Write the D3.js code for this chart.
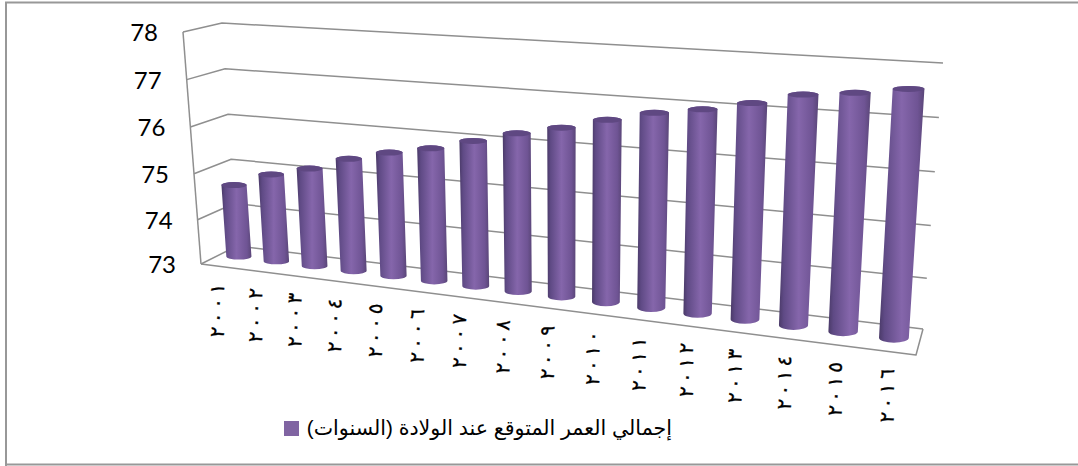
<!DOCTYPE html>
<html>
<head>
<meta charset="utf-8">
<script src="https://cdn.jsdelivr.net/npm/d3@7"></script>
<style>
html,body{margin:0;padding:0;background:#fff}
svg{display:block}
</style>
</head>
<body>
<svg id="chart" width="1078" height="466"></svg>
<script>
// data
var years = ["٢٠٠١","٢٠٠٢","٢٠٠٣","٢٠٠٤","٢٠٠٥","٢٠٠٦","٢٠٠٧","٢٠٠٨","٢٠٠٩","٢٠١٠","٢٠١١","٢٠١٢","٢٠١٣","٢٠١٤","٢٠١٥","٢٠١٦"];
var lifeExpectancy = [74.62,74.94,75.15,75.44,75.65,75.82,76.05,76.28,76.47,76.70,76.91,77.05,77.24,77.47,77.57,77.71];
var yTicks = [73,74,75,76,77,78];
var legendLabel = "إجمالي العمر المتوقع عند الولادة (السنوات)";

var svg = d3.select("#chart");

// fake 3d box: screen position of each vertical edge, [y=73, y=78]
var edge = {
  frontLeft:  {x: [201,183], y: [264,32]},
  backLeft:   {x: [237,222], y: [246,23]},
  frontRight: {x: [916,929], y: [355,89]},
  backRight:  {x: [923,943], y: [329,63]}
};
var yT = d3.scalePow().exponent(1.03).domain([0,5]).range([0,1]);
var xU = d3.scaleBand().domain(d3.range(years.length)).range([0,1]);
var K = 1.19;
function persp(u){ return u/(K+u*(1-K)); }
function lerp(a,b,t){ return a+(b-a)*t; }
function onEdge(e,v){ var t=yT(v-73); return [lerp(e.x[0],e.x[1],t), lerp(e.y[0],e.y[1],t)]; }
// u along the years, v value, d depth (0 front, 1 back)
function pos(u,v,d){
  var s=persp(u);
  var l0=onEdge(edge.frontLeft,v), l1=onEdge(edge.backLeft,v);
  var r0=onEdge(edge.frontRight,v), r1=onEdge(edge.backRight,v);
  var lx=lerp(l0[0],l1[0],d), ly=lerp(l0[1],l1[1],d);
  var rx=lerp(r0[0],r1[0],d), ry=lerp(r0[1],r1[1],d);
  return [lerp(lx,rx,s), lerp(ly,ry,s)];
}

// frame runs off the right side of the picture
svg.append("path").attr("d","M6,466V2.5H1078M6,464.5H1078")
  .attr("fill","none").attr("stroke","#989898").attr("stroke-width",2);

var defs = svg.append("defs");
var grad = defs.append("linearGradient").attr("id","barBody");
[[0,"#4a3a68"],[0.12,"#5f4a85"],[0.5,"#8566ab"],[0.85,"#6f5494"],[1,"#5a4678"]].forEach(function(st){
  grad.append("stop").attr("offset",st[0]).attr("stop-color",st[1]);
});

// walls
var gridColor = "#8f8f8f";
var line = d3.line();
var gWalls = svg.append("g").attr("fill","none").attr("stroke",gridColor).attr("stroke-width",1.5).attr("stroke-linejoin","round");
gWalls.selectAll("path.grid").data(yTicks).enter().append("path").attr("class","grid")
  .attr("d",function(v){ return line([onEdge(edge.frontLeft,v),onEdge(edge.backLeft,v),onEdge(edge.backRight,v)]); });
gWalls.append("path").attr("d",line([onEdge(edge.frontLeft,78),onEdge(edge.frontLeft,73)]));
gWalls.append("path").attr("d",line([onEdge(edge.frontLeft,73),onEdge(edge.frontRight,73),onEdge(edge.backRight,73)]));

// y labels
svg.append("g").selectAll("text").data(yTicks).enter().append("text")
  .attr("x",function(v){ return onEdge(edge.frontLeft,v)[0]-25; })
  .attr("y",function(v){ return onEdge(edge.frontLeft,v)[1]+9; })
  .attr("text-anchor","end").attr("font-family","Lato, 'Open Sans', sans-serif")
  .attr("font-size",24).attr("fill","#000")
  .text(function(v){ return v; });

// cylinders
function cylinder(i,v){
  var u=xU(i)+xU.bandwidth()/2, s=persp(u);
  var top=pos(u,v,0.54), base=pos(u,73,0.54);
  var rt=lerp(12.5,16,s), rb=lerp(12.5,15,s), et=3, eb=lerp(3,5,s);
  return {top:top,rt:rt,et:et,
    d:"M"+(top[0]-rt)+","+top[1]+
      "L"+(base[0]-rb)+","+base[1]+
      "A"+rb+","+eb+" 0 0 0 "+(base[0]+rb)+","+base[1]+
      "L"+(top[0]+rt)+","+top[1]+
      "A"+rt+","+et+" 0 0 0 "+(top[0]-rt)+","+top[1]+"Z"};
}
svg.append("g").selectAll("g").data(lifeExpectancy).enter().append("g")
  .each(function(v,i){
    var c=cylinder(i,v), g=d3.select(this);
    g.append("path").attr("d",c.d).attr("fill","url(#barBody)");
    g.append("ellipse").attr("cx",c.top[0]).attr("cy",c.top[1]).attr("rx",c.rt).attr("ry",c.et).attr("fill","#5f4882");
  });

// x labels: digits stacked one by one, each turned on its side
var digitStep = 14.5;
svg.append("g").selectAll("g").data(years).enter().append("g")
  .attr("transform",function(d,i){
    var p=pos(xU(i)+xU.bandwidth()/2,73,0);
    return "translate("+(p[0]-3)+","+(p[1]+44)+")";
  })
  .selectAll("text").data(function(d){ return d.split(""); }).enter().append("text")
  .attr("transform",function(d,k){ return "translate(0,"+((1.5-k)*digitStep)+") rotate(-84)"; })
  .attr("text-anchor","middle").attr("dy","0.36em")
  .attr("font-family","'DejaVu Sans', sans-serif").attr("font-size",20)
  .attr("fill","#000").attr("stroke","#000").attr("stroke-width",0.3)
  .text(function(d){ return d; });

// legend
svg.append("rect").attr("x",284).attr("y",421).attr("width",15).attr("height",15).attr("fill","#8064a2");
svg.append("text").attr("x",672).attr("y",435)
  .attr("direction","rtl").attr("text-anchor","start")
  .attr("font-family","'Liberation Sans', 'DejaVu Sans', sans-serif").attr("font-size",20.6).attr("fill","#000")
  .text(legendLabel);
</script>
</body>
</html>
